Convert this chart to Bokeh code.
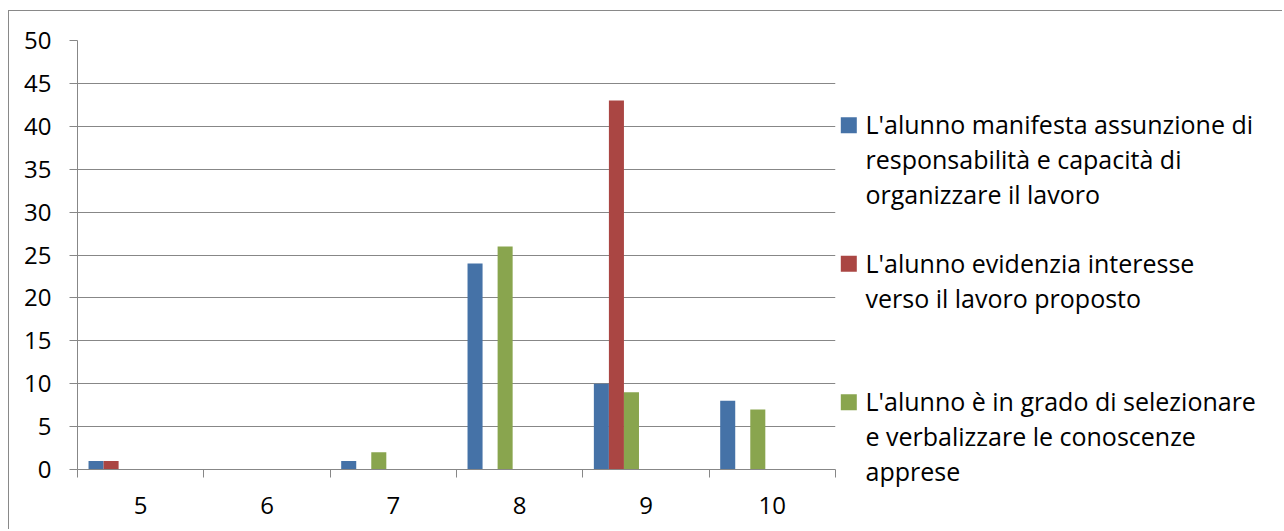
from bokeh.plotting import figure
from bokeh.layouts import row
from bokeh.models import Range1d, FixedTicker, ColumnDataSource
from bokeh.core.properties import value
from bokeh.embed import file_html
from bokeh.resources import INLINE

# ---- data ----
categories = ["5", "6", "7", "8", "9", "10"]
series_names = [
    "L'alunno manifesta assunzione di\nresponsabilità e capacità di\norganizzare il lavoro",
    "L'alunno evidenzia interesse\nverso il lavoro proposto",
    "L'alunno è in grado di selezionare\ne verbalizzare le conoscenze\napprese",
]
responsabilita = [1, 0, 1, 24, 10, 8]
interesse = [1, 0, 0, 0, 43, 0]
selezionare = [0, 0, 2, 26, 9, 7]
y_ticks = [0, 5, 10, 15, 20, 25, 30, 35, 40, 45, 50]

series_values = [responsabilita, interesse, selezionare]
colors = ["#4572A7", "#AA4643", "#89A54E"]

FONT = "Open Sans"
FS_TICK = "24px"
FS_LEG = "25px"
GRID = "#878787"

H = 518
W1 = 830
W2 = 443

p = figure(width=W1, height=H, output_backend="svg", toolbar_location=None,
           x_range=Range1d(0, len(categories)), y_range=Range1d(0, 50),
           min_border_left=68, min_border_right=4, min_border_top=29,
           min_border_bottom=60)
p.frame_align = False
p.outline_line_color = None
p.background_fill_color = "white"
p.border_fill_color = "white"

bar_w = 15 / 126
offsets = [18.5 / 126, 33.5 / 126, 48.5 / 126]
for vals, off, col in zip(series_values, offsets, colors):
    src = ColumnDataSource(dict(x=[i + off for i in range(len(categories))], top=vals))
    p.vbar(x="x", top="top", width=bar_w, bottom=0, source=src,
           fill_color=col, line_color=None)

# y axis
ya = p.yaxis[0]
ya.ticker = FixedTicker(ticks=y_ticks)
ya.axis_line_color = GRID
ya.major_tick_line_color = GRID
ya.major_tick_out = 8
ya.major_tick_in = 0
ya.minor_tick_line_color = None
ya.major_label_text_font = FONT
ya.major_label_text_font_size = FS_TICK
ya.major_label_text_color = "black"
ya.major_label_standoff = 18

# x axis
xa = p.xaxis[0]
centers = [i + 0.5 for i in range(len(categories))]
xa.ticker = FixedTicker(ticks=centers, minor_ticks=list(range(len(categories) + 1)))
xa.major_label_overrides = {c: lab for c, lab in zip(centers, categories)}
xa.axis_line_color = GRID
xa.major_tick_line_color = None
xa.major_tick_out = 0
xa.major_tick_in = 0
xa.minor_tick_line_color = GRID
xa.minor_tick_out = 8
xa.minor_tick_in = 0
xa.major_label_text_font = FONT
xa.major_label_text_font_size = FS_TICK
xa.major_label_text_color = "black"
xa.major_label_standoff = 19

p.xgrid.grid_line_color = None
p.ygrid.ticker = FixedTicker(ticks=y_ticks)
p.ygrid.grid_line_color = GRID
p.ygrid.grid_line_width = 1

# ---- legend panel ----
lg = figure(width=W2, height=H, output_backend="svg", toolbar_location=None,
            x_range=Range1d(0, W2), y_range=Range1d(H, 0),
            min_border=0, min_border_left=0, min_border_right=0,
            min_border_top=0, min_border_bottom=0)
lg.frame_align = False
lg.axis.visible = False
lg.grid.visible = False
lg.outline_line_color = None
lg.background_fill_color = "white"
lg.border_fill_color = "white"

item_start = 123.3   # baseline of first line of first item
item_step = 138.5
line_step = 35
text_shift = -10.5
sq_x, sq_y, tx, ty = [], [], [], []
texts = []
for k, name in enumerate(series_names):
    base = item_start + k * item_step
    sq_x.append(9.3)
    sq_y.append(base - 9.6)
    for j, line in enumerate(name.split("\n")):
        tx.append(26)
        ty.append(base + j * line_step + text_shift)
        texts.append(line)

lg.scatter(x=sq_x, y=sq_y, marker="square", size=16, fill_color=colors, line_color=None)
lg.text(x=tx, y=ty, text=texts, text_font=value(FONT), text_font_size=FS_LEG,
        text_color="black", text_baseline="alphabetic", text_align="left")

layout = row(p, lg, styles={"margin-top": "10px", "margin-left": "8px",
                            "border-top": "1px solid #898989",
                            "border-left": "1px solid #898989"})

open("out.html", "w").write(file_html(layout, INLINE))
